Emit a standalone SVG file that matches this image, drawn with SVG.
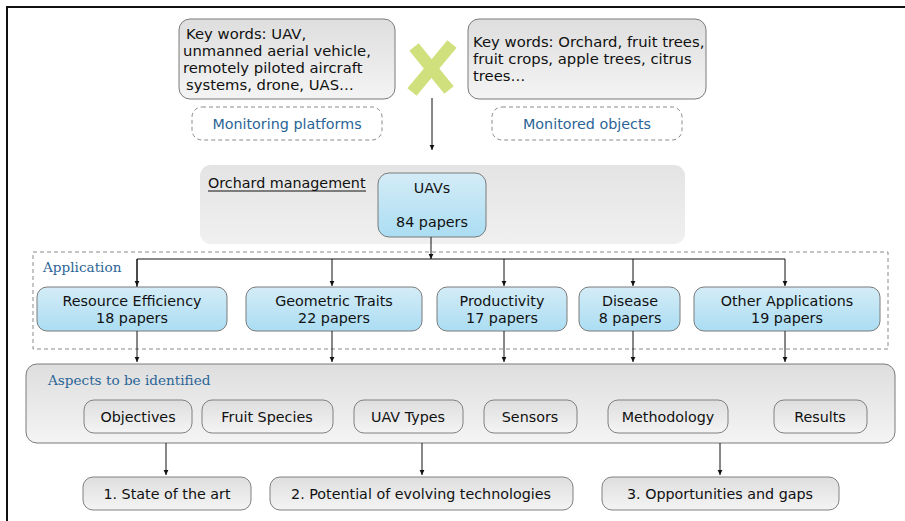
<svg xmlns="http://www.w3.org/2000/svg" width="905" height="521" viewBox="0 0 905 521">
  <defs>
    <linearGradient id="gGray" x1="0" y1="0" x2="0" y2="1">
      <stop offset="0" stop-color="#dedede"/>
      <stop offset="1" stop-color="#f4f4f4"/>
    </linearGradient>
    <linearGradient id="gPanel" x1="0" y1="0" x2="0" y2="1">
      <stop offset="0" stop-color="#e4e4e4"/>
      <stop offset="1" stop-color="#f0f0f0"/>
    </linearGradient>
    <linearGradient id="gBlue" x1="0" y1="0" x2="0" y2="1">
      <stop offset="0" stop-color="#d4ecf7"/>
      <stop offset="1" stop-color="#abddf3"/>
    </linearGradient>
    <marker id="arrow" markerUnits="userSpaceOnUse" markerWidth="6" markerHeight="6" refX="5" refY="3" orient="auto">
      <path d="M0,0.6 L5,3 L0,5.4 Z" fill="#111"/>
    </marker>
    <style>
      .t { font-family: "DejaVu Sans", Verdana, sans-serif; font-size: 14.3px; fill: #111; }
      .kw { font-size: 14.8px; }
      .c { text-anchor: middle; }
      .blue { fill: #2a6496; }
      .slab { font-family: "DejaVu Serif", serif; font-size: 13.6px; fill: #2a6496; }
      .box { fill: url(#gGray); stroke: #7a7a7a; stroke-width: 1; }
      .pill { fill: url(#gGray); stroke: #808080; stroke-width: 1; }
      .app { fill: url(#gBlue); stroke: #7a7a7a; stroke-width: 1; }
      .dash { fill: none; stroke: #8a8a8a; stroke-width: 1; stroke-dasharray: 4 3; }
      .conn { fill: none; stroke: #111; stroke-width: 1; }
    </style>
  </defs>

  <rect width="905" height="521" fill="#ffffff"/>

  <!-- page frame (top and left edges) -->
  <path d="M7,521 L7,7 L905,7" fill="none" stroke="#111" stroke-width="2"/>

  <!-- search keywords: platforms -->
  <g id="kw-platforms">
    <rect class="box" x="179" y="19" width="216" height="80" rx="11"/>
    <text class="t kw" x="186" y="39">Key words: UAV,</text>
    <text class="t kw" x="183" y="56">unmanned aerial vehicle,</text>
    <text class="t kw" x="183" y="73">remotely piloted aircraft</text>
    <text class="t kw" x="186" y="90">systems, drone, UAS…</text>
  </g>
  <g id="label-platforms">
    <rect class="dash" x="192" y="107" width="190" height="33" rx="10"/>
    <text class="t c blue" x="287" y="129">Monitoring platforms</text>
  </g>

  <!-- search keywords: objects -->
  <g id="kw-objects">
    <rect class="box" x="468" y="19" width="238" height="80" rx="11"/>
    <text class="t kw" x="473" y="47">Key words: Orchard, fruit trees,</text>
    <text class="t kw" x="473" y="64">fruit crops, apple trees, citrus</text>
    <text class="t kw" x="473" y="81">trees…</text>
  </g>
  <g id="label-objects">
    <rect class="dash" x="492" y="107" width="190" height="33" rx="10"/>
    <text class="t c blue" x="587" y="129">Monitored objects</text>
  </g>

  <!-- cross of the two keyword sets -->
  <g id="cross">
    <line x1="452" y1="44" x2="412" y2="92" stroke="#cfe07c" stroke-width="12"/>
    <line x1="414" y1="47" x2="449" y2="90" stroke="#cfe07c" stroke-width="12"/>
  </g>

  <!-- orchard management panel -->
  <g id="orchard">
    <rect x="200" y="165" width="485" height="79" rx="11" fill="url(#gPanel)"/>
    <text class="t" x="208" y="188">Orchard management</text>
    <line x1="208" y1="191" x2="366" y2="191" stroke="#111" stroke-width="1"/>
  </g>
  <g id="uavs">
    <rect class="app" x="378" y="173" width="108" height="64" rx="11"/>
    <text class="t c" x="432" y="193">UAVs</text>
    <text class="t c" x="432" y="227">84 papers</text>
  </g>

  <!-- application frame -->
  <g id="application">
    <rect class="dash" x="33" y="252" width="855" height="97"/>
    <text class="slab" x="43" y="272">Application</text>
  </g>
  <g id="app-resource">
    <rect class="app" x="37" y="287" width="190" height="44" rx="10"/>
    <text class="t c" x="132" y="306">Resource Efficiency</text>
    <text class="t c" x="132" y="323">18 papers</text>
  </g>
  <g id="app-geometric">
    <rect class="app" x="246" y="287" width="176" height="44" rx="10"/>
    <text class="t c" x="334" y="306">Geometric Traits</text>
    <text class="t c" x="334" y="323">22 papers</text>
  </g>
  <g id="app-productivity">
    <rect class="app" x="437" y="287" width="130" height="44" rx="10"/>
    <text class="t c" x="502" y="306">Productivity</text>
    <text class="t c" x="502" y="323">17 papers</text>
  </g>
  <g id="app-disease">
    <rect class="app" x="579" y="287" width="101" height="44" rx="10"/>
    <text class="t c" x="630" y="306">Disease</text>
    <text class="t c" x="630" y="323">8 papers</text>
  </g>
  <g id="app-other">
    <rect class="app" x="694" y="287" width="186" height="44" rx="10"/>
    <text class="t c" x="787" y="306">Other Applications</text>
    <text class="t c" x="787" y="323">19 papers</text>
  </g>

  <!-- aspects panel -->
  <g id="aspects">
    <rect class="box" x="26" y="364" width="869" height="79" rx="11"/>
    <text class="slab" x="48" y="385">Aspects to be identified</text>
  </g>
  <g id="asp-objectives">
    <rect class="pill" x="84" y="400" width="108" height="33" rx="10"/>
    <text class="t c" x="138" y="422">Objectives</text>
  </g>
  <g id="asp-species">
    <rect class="pill" x="202" y="400" width="131" height="33" rx="10"/>
    <text class="t c" x="267" y="422">Fruit Species</text>
  </g>
  <g id="asp-uavtypes">
    <rect class="pill" x="354" y="400" width="109" height="33" rx="10"/>
    <text class="t c" x="408" y="422">UAV Types</text>
  </g>
  <g id="asp-sensors">
    <rect class="pill" x="484" y="400" width="93" height="33" rx="10"/>
    <text class="t c" x="530" y="422">Sensors</text>
  </g>
  <g id="asp-methodology">
    <rect class="pill" x="608" y="400" width="120" height="33" rx="10"/>
    <text class="t c" x="668" y="422">Methodology</text>
  </g>
  <g id="asp-results">
    <rect class="pill" x="774" y="400" width="93" height="33" rx="10"/>
    <text class="t c" x="820" y="422">Results</text>
  </g>

  <!-- outcomes -->
  <g id="out-state">
    <rect class="pill" x="83" y="477" width="168" height="33" rx="10"/>
    <text class="t c" x="167" y="499">1. State of the art</text>
  </g>
  <g id="out-potential">
    <rect class="pill" x="270" y="477" width="303" height="33" rx="10"/>
    <text class="t c" x="421" y="499">2. Potential of evolving technologies</text>
  </g>
  <g id="out-gaps">
    <rect class="pill" x="602" y="477" width="237" height="33" rx="10"/>
    <text class="t c" x="720" y="499">3. Opportunities and gaps</text>
  </g>

  <!-- connectors -->
  <g id="connectors">
    <line class="conn" x1="432" y1="98" x2="432" y2="150" marker-end="url(#arrow)"/>
    <line class="conn" x1="431" y1="237" x2="431" y2="259" marker-end="url(#arrow)"/>
    <polyline class="conn" points="137,287 137,259 785,259"/>
    <line class="conn" x1="137" y1="259" x2="137" y2="286" marker-end="url(#arrow)"/>
    <line class="conn" x1="332" y1="259" x2="332" y2="286" marker-end="url(#arrow)"/>
    <line class="conn" x1="504" y1="259" x2="504" y2="286" marker-end="url(#arrow)"/>
    <line class="conn" x1="633" y1="259" x2="633" y2="286" marker-end="url(#arrow)"/>
    <line class="conn" x1="785" y1="259" x2="785" y2="286" marker-end="url(#arrow)"/>
    <line class="conn" x1="137" y1="331" x2="137" y2="362" marker-end="url(#arrow)"/>
    <line class="conn" x1="332" y1="331" x2="332" y2="362" marker-end="url(#arrow)"/>
    <line class="conn" x1="504" y1="331" x2="504" y2="362" marker-end="url(#arrow)"/>
    <line class="conn" x1="633" y1="331" x2="633" y2="362" marker-end="url(#arrow)"/>
    <line class="conn" x1="785" y1="331" x2="785" y2="362" marker-end="url(#arrow)"/>
    <line class="conn" x1="166" y1="443" x2="166" y2="475" marker-end="url(#arrow)"/>
    <line class="conn" x1="422" y1="443" x2="422" y2="475" marker-end="url(#arrow)"/>
    <line class="conn" x1="720" y1="443" x2="720" y2="475" marker-end="url(#arrow)"/>
  </g>
</svg>
